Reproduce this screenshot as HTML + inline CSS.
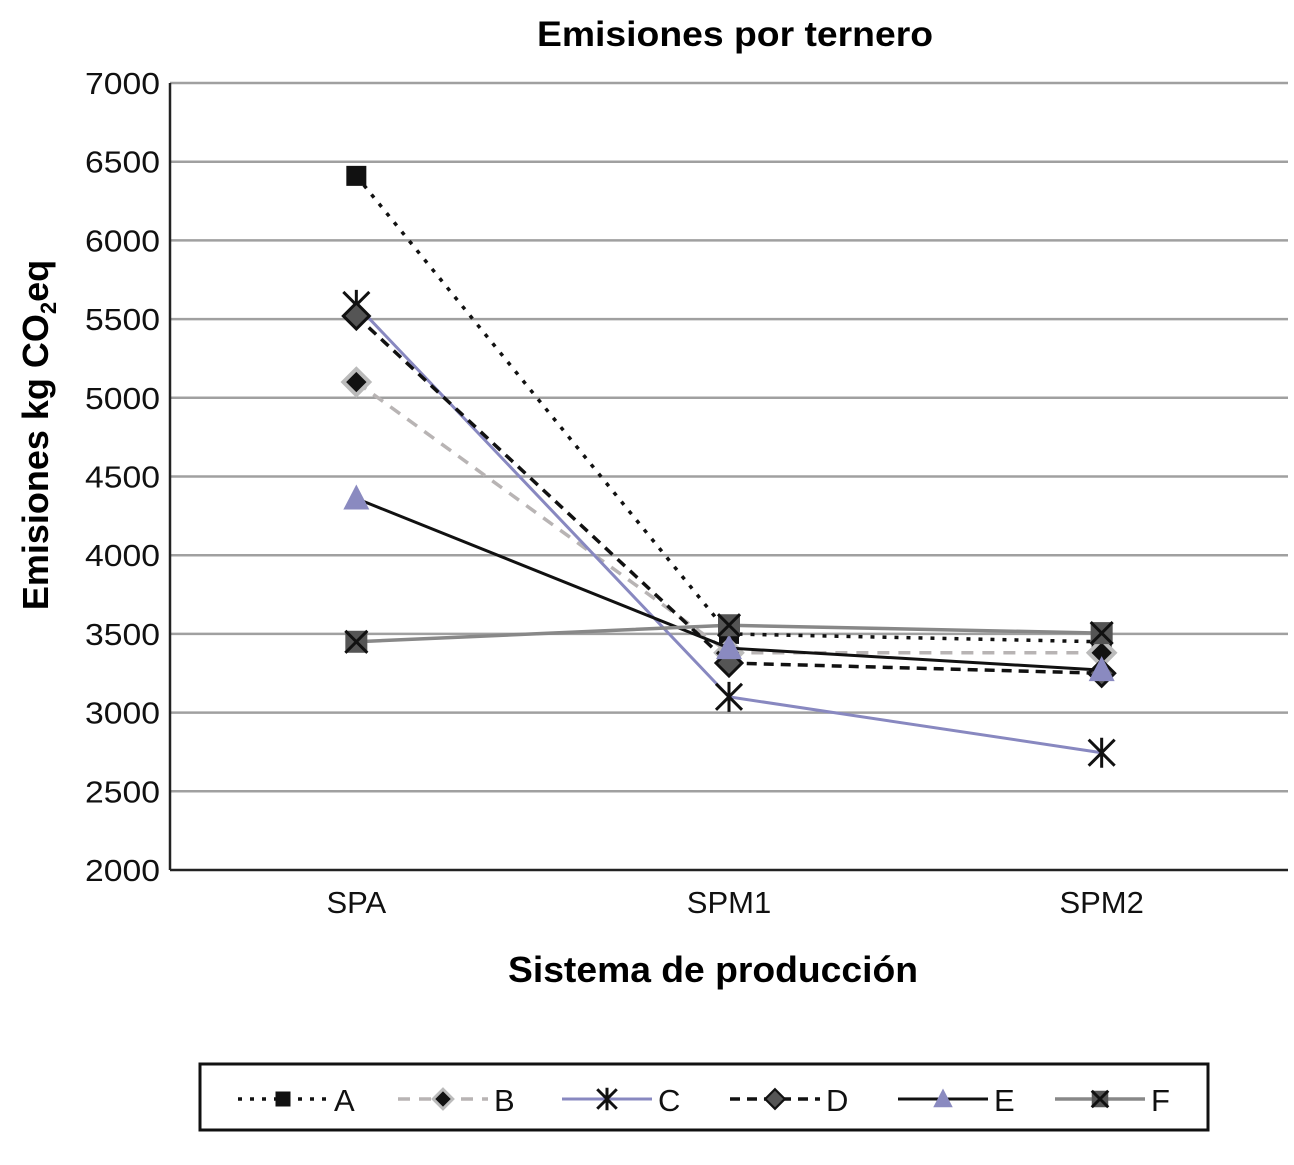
<!DOCTYPE html>
<html><head><meta charset="utf-8"><style>
body{margin:0;background:#fff}
svg text{font-family:"Liberation Sans",Arial,sans-serif}
</style></head><body>
<svg id="c" width="1294" height="1160" xmlns="http://www.w3.org/2000/svg"></svg>
<script>
const categories=["SPA","SPM1","SPM2"];
const seriesNames=["A","B","C","D","E","F"];
const valsA=[6410,3500,3450];
const valsB=[5100,3380,3380];
const valsC=[5590,3100,2745];
const valsD=[5520,3315,3250];
const valsE=[4360,3410,3270];
const valsF=[3450,3555,3505];
const yTicks=[2000,2500,3000,3500,4000,4500,5000,5500,6000,6500,7000];
const NS="http://www.w3.org/2000/svg";
const svg=document.getElementById('c');
const X0=170,X1=1288,Y0=870,Y1=83,YMIN=2000,YMAX=7000;
const xs=i=>X0+(X1-X0)/categories.length*(i+0.5);
const ys=v=>Y0-(v-YMIN)/(YMAX-YMIN)*(Y0-Y1);
function el(t,a,p){const e=document.createElementNS(NS,t);for(const k in a)e.setAttribute(k,a[k]);(p||svg).appendChild(e);return e;}
function txt(s,a,p){const e=el('text',a,p);e.textContent=s;return e;}
yTicks.forEach(v=>{
 if(v>YMIN){const g=el('line',{x1:X0,x2:X1,y1:ys(v),y2:ys(v),stroke:'#a0a0a0','stroke-width':2.5});
 
 }
 const t=txt(v,{x:160,y:ys(v)+11,'text-anchor':'end','font-size':31,fill:'#111',textLength:75,lengthAdjust:'spacingAndGlyphs'});
 
 
});
el('line',{x1:X0,x2:X0,y1:Y1,y2:Y0,stroke:'#222','stroke-width':2.5,});
el('line',{x1:X0,x2:X1,y1:Y0,y2:Y0,stroke:'#222','stroke-width':2.5,});
categories.forEach((c,i)=>{
 const t=txt(c,{x:xs(i),y:913,'text-anchor':'middle','font-size':31,fill:'#111'});
 
 
});
txt('Emisiones por ternero',{x:735,y:46,'text-anchor':'middle','font-size':35,'font-weight':'bold',textLength:396,lengthAdjust:'spacingAndGlyphs',});
txt('Sistema de producción',{x:713,y:982,'text-anchor':'middle','font-size':36,'font-weight':'bold',textLength:410,lengthAdjust:'spacingAndGlyphs',});
const yt=el('text',{transform:'translate(48,435) rotate(-90)','text-anchor':'middle','font-size':36,'font-weight':'bold',});
yt.innerHTML='Emisiones kg CO<tspan font-size="22" dy="8">2</tspan><tspan dy="-8">eq</tspan>';
const styles=[
 {d:valsA,stroke:'#111',dash:'4 8',w:3.5,m:'square'},
 {d:valsB,stroke:'#b8b4b4',dash:'12 9',w:3.5,m:'diamondB'},
 {d:valsC,stroke:'#8888c0',dash:'',w:3,m:'star'},
 {d:valsD,stroke:'#111',dash:'10 7',w:3.5,m:'diamondD'},
 {d:valsE,stroke:'#111',dash:'',w:3,m:'tri'},
 {d:valsF,stroke:'#888',dash:'',w:3.5,m:'xsq'}];
function marker(type,x,y,s,p){
 s=s||1;let e;
 if(type==='square'){e=el('rect',{x:x-10*s,y:y-10*s,width:20*s,height:20*s,fill:'#111'},p);}
 else if(type==='diamondB'){e=el('path',{d:`M${x} ${y-13*s}L${x+13*s} ${y}L${x} ${y+13*s}L${x-13*s} ${y}Z`,fill:'#111',stroke:'#bbb','stroke-width':4*s},p);}
 else if(type==='diamondD'){e=el('path',{d:`M${x} ${y-13*s}L${x+13*s} ${y}L${x} ${y+13*s}L${x-13*s} ${y}Z`,fill:'#555',stroke:'#111','stroke-width':3*s},p);}
 else if(type==='star'){e=el('path',{d:`M${x-13*s} ${y-13*s}L${x+13*s} ${y+13*s}M${x+13*s} ${y-13*s}L${x-13*s} ${y+13*s}M${x} ${y-15*s}L${x} ${y+15*s}`,stroke:'#111','stroke-width':3,fill:'none'},p);}
 else if(type==='tri'){e=el('path',{d:`M${x} ${y-14*s}L${x+13*s} ${y+11*s}L${x-13*s} ${y+11*s}Z`,fill:'#8a8ac0'},p);}
 else {const g=el('g',{},p);el('rect',{x:x-11*s,y:y-11*s,width:22*s,height:22*s,fill:'#555'},g);el('path',{d:`M${x-11*s} ${y-11*s}L${x+11*s} ${y+11*s}M${x+11*s} ${y-11*s}L${x-11*s} ${y+11*s}`,stroke:'#111','stroke-width':3},g);e=g;}
 return e;
}
styles.forEach((st,si)=>{
 const g=el('g',{});
 
 
 const pts=st.d.map((v,i)=>xs(i)+','+ys(v)).join(' ');
 const l=el('polyline',{points:pts,fill:'none',stroke:st.stroke,'stroke-width':st.w,'stroke-dasharray':st.dash},g);
 
 
 st.d.forEach((v,i)=>{
  const m=marker(st.m,xs(i),ys(v),1,g);
  
  
 });
});
el('rect',{x:200,y:1064,width:1008,height:66,fill:'#fff',stroke:'#111','stroke-width':3,});
const lx=[238,398,562,730,898,1055];
styles.forEach((st,si)=>{
 const g=el('g',{});
 
 
 el('line',{x1:lx[si],x2:lx[si]+90,y1:1099,y2:1099,stroke:st.stroke,'stroke-width':st.w,'stroke-dasharray':st.dash},g);
 marker(st.m,lx[si]+45,1099,0.75,g);
 txt(seriesNames[si],{x:lx[si]+96,y:1111,'font-size':31,fill:'#111'},g);
});
</script>
</body></html>
